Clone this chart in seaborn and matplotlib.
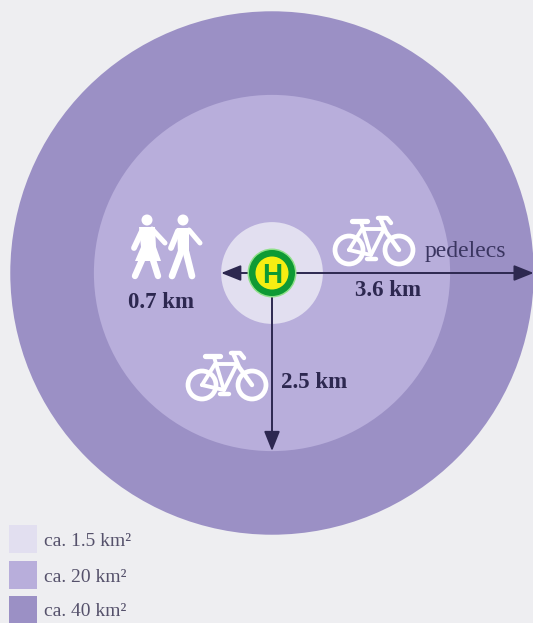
import matplotlib
matplotlib.use('Agg')
import matplotlib.pyplot as plt
import pandas as pd
import seaborn as sns
from matplotlib.patches import Circle, Polygon

# catchment zones around the stop, radius (km)
zone_radius = [3.6, 2.45, 0.7]
zone_colors = ['#9b90c5', '#b8aedb', '#e2dff0']

legend_labels = ['ca. 1.5 km²', 'ca. 20 km²', 'ca. 40 km²']
legend_colors = ['#e2dff0', '#b8aedb', '#9b90c5']

distance_labels = ['0.7 km', '2.5 km', '3.6 km']
mode_label = 'pedelecs'

BG = '#eeeef1'
DARK = '#2d2850'
SCALE = 72.7  # px per km
CX, CY = 272, 273


def P(x, y):
    # picture pixel -> km from the stop
    return (x - CX) / SCALE, (CY - y) / SCALE


def stroke(ax, pts, lw=2.8):
    xs, ys = zip(*[P(*p) for p in pts])
    ax.plot(xs, ys, color='white', lw=lw, solid_capstyle='round', solid_joinstyle='round', zorder=6)


def bike(ax, x, y):
    # x, y = centre of the rear wheel in pixels
    for wx in (x, x + 50):
        ax.add_patch(Circle(P(wx, y), 14 / SCALE, fc='none', ec='white', lw=3.4, zorder=6))
    stroke(ax, [(x, y), (x + 13, y - 21), (x + 35, y - 21), (x + 22, y + 5), (x, y)])
    stroke(ax, [(x + 22, y + 5), (x + 12, y - 28)])
    stroke(ax, [(x + 3, y - 29), (x + 18, y - 29)], lw=3.8)
    stroke(ax, [(x + 31, y - 32), (x + 37, y - 18), (x + 50, y)], lw=3.2)
    stroke(ax, [(x + 29, y - 32), (x + 38, y - 32), (x + 42, y - 27)], lw=3.2)
    stroke(ax, [(x + 18, y + 9), (x + 27, y + 9)], lw=3.2)


def walkers(ax):
    # woman
    ax.add_patch(Circle(P(147, 220), 5.5 / SCALE, fc='white', ec='none', zorder=6))
    stroke(ax, [(142, 231), (134, 248)], lw=4.2)
    stroke(ax, [(152, 229), (165, 243)], lw=3.6)
    ax.add_patch(Polygon([P(*p) for p in [(139, 227), (155, 227), (156, 247), (161, 261), (135, 261), (141, 247)]],
                         fc='white', ec='none', zorder=6))
    stroke(ax, [(142, 260), (135, 276)], lw=4.6)
    stroke(ax, [(153, 260), (158, 276)], lw=4.6)
    # man
    ax.add_patch(Circle(P(183, 220), 5.5 / SCALE, fc='white', ec='none', zorder=6))
    stroke(ax, [(178, 231), (171, 248)], lw=4.2)
    stroke(ax, [(189, 230), (200, 243)], lw=3.6)
    ax.add_patch(Polygon([P(*p) for p in [(177, 228), (189, 228), (189, 254), (178, 254)]],
                         fc='white', ec='none', zorder=6))
    stroke(ax, [(181, 252), (172, 276)], lw=4.8)
    stroke(ax, [(186, 252), (192, 276)], lw=4.8)


sns.set_style('white')
plt.rcParams['font.family'] = ['Liberation Serif', 'DejaVu Serif']

fig = plt.figure(figsize=(5.33, 6.23), dpi=100, facecolor=BG)
ax = fig.add_axes([0, 0, 1, 1], facecolor=BG)
ax.set_xlim(P(0, 0)[0], P(533, 0)[0])
ax.set_ylim(P(0, 623)[1], P(0, 0)[1])
ax.set_axis_off()

for r, c in zip(zone_radius, zone_colors):
    ax.add_patch(Circle((0, 0), r, fc=c, ec='none', zorder=1))

# arrows from the stop out to each zone edge
targets = [(-zone_radius[2], 0), (zone_radius[0], 0), (0, -zone_radius[1])]
for t in targets:
    ax.annotate('', xy=t, xytext=(0, 0), zorder=3, annotation_clip=False,
                arrowprops=dict(arrowstyle='-|>,head_length=1.0,head_width=0.4', color=DARK, lw=1.4,
                                mutation_scale=12, shrinkA=0, shrinkB=0))

# stop sign
ax.add_patch(Circle((0, 0), 24.5 / SCALE, fc='#8fe08a', ec='none', zorder=4))
ax.add_patch(Circle((0, 0), 23 / SCALE, fc='#0e9a34', ec='none', zorder=4))
ax.add_patch(Circle((0, 0), 16.5 / SCALE, fc='#f6ee12', ec='none', zorder=4))
ax.text(0, 0, 'H', color='#0e9a34', fontsize=20, fontweight='bold', family='Liberation Sans',
        ha='center', va='center_baseline', zorder=5)

walkers(ax)
bike(ax, 349, 250)
bike(ax, 202, 385)

label_pos = [(161, 303), (314, 383), (388, 291)]
for lab, p in zip(distance_labels, label_pos):
    ax.text(*P(*p), lab, color=DARK, fontsize=16.5, fontweight='bold', ha='center', va='center', zorder=5)
ax.text(*P(465, 252), mode_label, color='#3a3560', fontsize=17, ha='center', va='center', zorder=5)

# legend swatches
swatch_y = [539, 575, 610]
legend_df = pd.DataFrame({'x': [P(23, y)[0] for y in swatch_y],
                          'y': [P(23, y)[1] for y in swatch_y],
                          'label': legend_labels})
sns.scatterplot(data=legend_df, x='x', y='y', hue='label', palette=legend_colors, marker='s', s=380,
                linewidth=0, legend=False, ax=ax, clip_on=False, zorder=2)
for lab, y in zip(legend_labels, swatch_y):
    ax.text(*P(44, y + 2), lab, color='#55516b', fontsize=14, ha='left', va='center', zorder=5)
ax.set_xlabel('')
ax.set_ylabel('')

fig.savefig('out.png', dpi=100, facecolor=BG)
